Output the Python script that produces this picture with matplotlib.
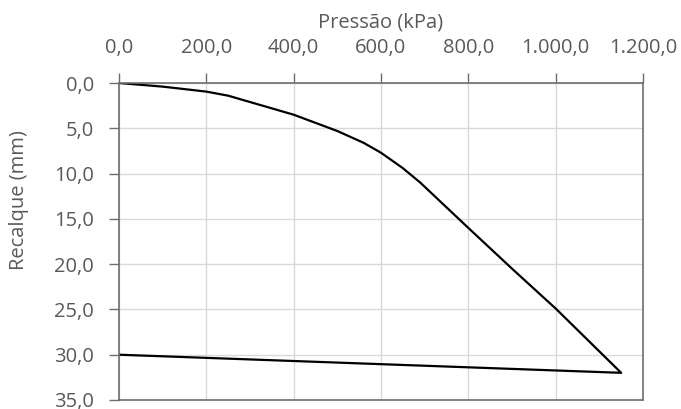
import matplotlib
matplotlib.use("Agg")
import matplotlib.pyplot as plt
from matplotlib.ticker import FuncFormatter

# ensaio de placa: carga e descarga
pressao = [0, 100, 200, 250, 300, 400, 500, 560, 600, 650, 690, 800, 900, 1000, 1150, 0]
recalque = [0.0, 0.4, 0.95, 1.4, 2.1, 3.5, 5.3, 6.6, 7.7, 9.4, 11.0, 16.0, 20.5, 24.9, 32.0, 30.0]

x_ticks = [0, 200, 400, 600, 800, 1000, 1200]
y_ticks = [0, 5, 10, 15, 20, 25, 30, 35]


def br_fmt(v, pos=None):
    s = f"{v:,.1f}"
    return s.replace(",", "X").replace(".", ",").replace("X", ".")


plt.rcParams["font.family"] = ["Open Sans", "DejaVu Sans"]
text_color = "#595959"
axis_color = "#6e6e6e"

fig = plt.figure(figsize=(6.81, 4.09), dpi=100)
ax = fig.add_axes([119 / 681, 1 - 400 / 409, 524 / 681, 317 / 409])

ax.plot(pressao, recalque, color="black", lw=1.6, solid_joinstyle="round")

ax.set_xlim(0, 1200)
ax.set_ylim(35, 0)
ax.set_xticks(x_ticks)
ax.set_yticks(y_ticks)
ax.xaxis.set_major_formatter(FuncFormatter(br_fmt))
ax.yaxis.set_major_formatter(FuncFormatter(br_fmt))
ax.xaxis.tick_top()
ax.xaxis.set_label_position("top")

ax.tick_params(axis="both", direction="out", length=7, width=1, color=axis_color,
               labelcolor=text_color, labelsize=14.5)
ax.tick_params(axis="x", pad=11)
ax.tick_params(axis="y", pad=11)

ax.grid(True, color="#d9d9d9", lw=1)
ax.set_axisbelow(True)
for sp in ax.spines.values():
    sp.set_color(axis_color)
    sp.set_linewidth(1.2)

ax.set_xlabel("Pressão (kPa)", color=text_color, fontsize=14.5)
ax.xaxis.set_label_coords(0.5, 1.175)
ax.set_ylabel("Recalque (mm)", color=text_color, fontsize=14.5)
ax.yaxis.set_label_coords(-0.172, 0.63)

fig.savefig("out.png", dpi=100)
